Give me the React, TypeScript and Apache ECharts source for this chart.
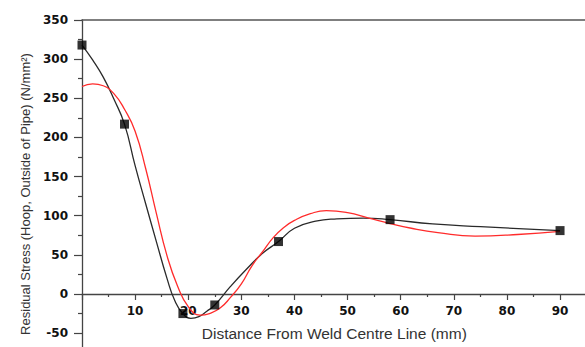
import React, { useEffect, useRef } from "react";
import * as echarts from "echarts";

// Measured points (black squares)
const pointX = [0, 8, 19, 25, 37, 58, 90];
const pointY = [318, 217, -25, -14, 67, 95, 81];

// Black curve
const blackX = [0, 2, 4, 6, 8, 10, 12, 14, 16, 17.5, 19, 20.5, 22, 23.5, 25, 28, 31, 34, 37, 40, 44, 48, 53, 58, 66, 75, 90];
const blackY = [318, 299, 277, 249, 217, 164, 115, 67, 20, -9, -25, -31, -29, -22, -14, 10, 32, 52, 67, 84, 93, 96, 97, 95, 89.5, 86, 81];

// Red curve
const redX = [0, 2, 4, 6, 8, 10, 12, 14, 16, 18, 20, 22.2, 24, 26, 28, 30, 32, 34, 36, 38, 40, 43, 46, 50, 54, 58, 62, 67, 74, 82, 90];
const redY = [265, 268.5, 266, 256, 236, 208, 160, 103, 49, 10, -16, -27, -25, -18, -4, 13, 36, 54, 72, 85, 94, 102.6, 106.5, 104, 97, 90, 84, 78.5, 74, 76, 80];

const xTitle = "Distance From Weld Centre Line (mm)";
const yTitle = "Residual Stress (Hoop, Outside of Pipe) (N/mm\u00B2)";

export default function App() {
  const ref = useRef<HTMLDivElement>(null);
  useEffect(() => {
    const chart = echarts.init(ref.current!, null, { renderer: "svg" });
    const axisColor = "#444";
    const tickFont = {
      fontFamily: "DejaVu Sans",
      fontWeight: "bold" as const,
      fontSize: 12,
      color: "#111",
    };
    const plotLeft = 82;
    const plotRight = -1.6;
    chart.setOption({
      animation: false,
      backgroundColor: "#fff",
      grid: [
        // data grid: y from -100 to 350 (bottom part runs off the page)
        { left: plotLeft, top: 20, right: plotRight, bottom: -25.3, containLabel: false, outerBoundsMode: "none" },
        // axis grid: its bottom edge sits on the y = 0 line
        { left: plotLeft, top: 20, right: plotRight, bottom: 53, containLabel: false, outerBoundsMode: "none" },
      ],
      xAxis: [
        {
          gridIndex: 0,
          type: "value",
          position: "top",
          min: 0,
          max: 95,
          axisLine: { show: true, onZero: false, lineStyle: { color: "#555", width: 1.5 } },
          axisTick: { show: false },
          axisLabel: { show: false },
          splitLine: { show: false },
        },
        {
          gridIndex: 1,
          type: "value",
          position: "bottom",
          min: 0,
          max: 95,
          interval: 10,
          axisLine: { show: true, onZero: false, lineStyle: { color: axisColor, width: 1.3 } },
          axisTick: { show: true, length: 6, lineStyle: { color: axisColor, width: 1.2 } },
          minorTick: { show: true, splitNumber: 2, length: 3, lineStyle: { color: axisColor, width: 1.2 } },
          splitLine: { show: false },
          axisLabel: {
            ...tickFont,
            margin: 11,
            formatter: (v: number) => (v > 0 && v % 10 === 0 ? String(v) : ""),
          },
          name: xTitle,
          nameLocation: "middle",
          nameGap: 31,
          nameTextStyle: { fontFamily: "Liberation Sans", fontSize: 15.5, color: "#333" },
        },
      ],
      yAxis: [
        {
          gridIndex: 0,
          type: "value",
          min: -100,
          max: 350,
          interval: 50,
          axisLine: { show: true, onZero: false, lineStyle: { color: axisColor, width: 1.3 } },
          axisTick: { show: true, length: 8, lineStyle: { color: axisColor, width: 1.2 } },
          minorTick: { show: true, splitNumber: 2, length: 4, lineStyle: { color: axisColor, width: 1.2 } },
          splitLine: { show: false },
          axisLabel: {
            ...tickFont,
            margin: 14,
            formatter: (v: number) => (v < -50 ? "" : String(v)),
          },
        },
        {
          gridIndex: 1,
          type: "value",
          min: 0,
          max: 350,
          show: false,
        },
      ],
      graphic: [
        {
          type: "text",
          x: 25,
          y: 194,
          rotation: Math.PI / 2,
          style: {
            text: yTitle,
            fontFamily: "Liberation Sans",
            fontSize: 13,
            fill: "#333",
            align: "center",
            verticalAlign: "middle",
          },
        },
      ],
      series: [
        {
          type: "line",
          xAxisIndex: 0,
          yAxisIndex: 0,
          data: blackX.map((x, i) => [x, blackY[i]]),
          smooth: 0.5,
          showSymbol: false,
          symbol: "none",
          lineStyle: { color: "#2a2a2a", width: 1.3 },
          z: 2,
        },
        {
          type: "line",
          xAxisIndex: 0,
          yAxisIndex: 0,
          data: redX.map((x, i) => [x, redY[i]]),
          smooth: 0.5,
          showSymbol: false,
          symbol: "none",
          lineStyle: { color: "#ff2b2b", width: 1.3 },
          z: 3,
        },
        {
          type: "scatter",
          xAxisIndex: 0,
          yAxisIndex: 0,
          data: pointX.map((x, i) => [x, pointY[i]]),
          symbol: "rect",
          symbolSize: 9,
          itemStyle: { color: "#000" },
          z: 4,
        },
      ],
    });
    return () => chart.dispose();
  }, []);
  return (
    <div
      ref={ref}
      style={{ position: "fixed", left: 0, top: 0, width: 585, height: 347, background: "#fff", overflow: "hidden" }}
    />
  );
}
